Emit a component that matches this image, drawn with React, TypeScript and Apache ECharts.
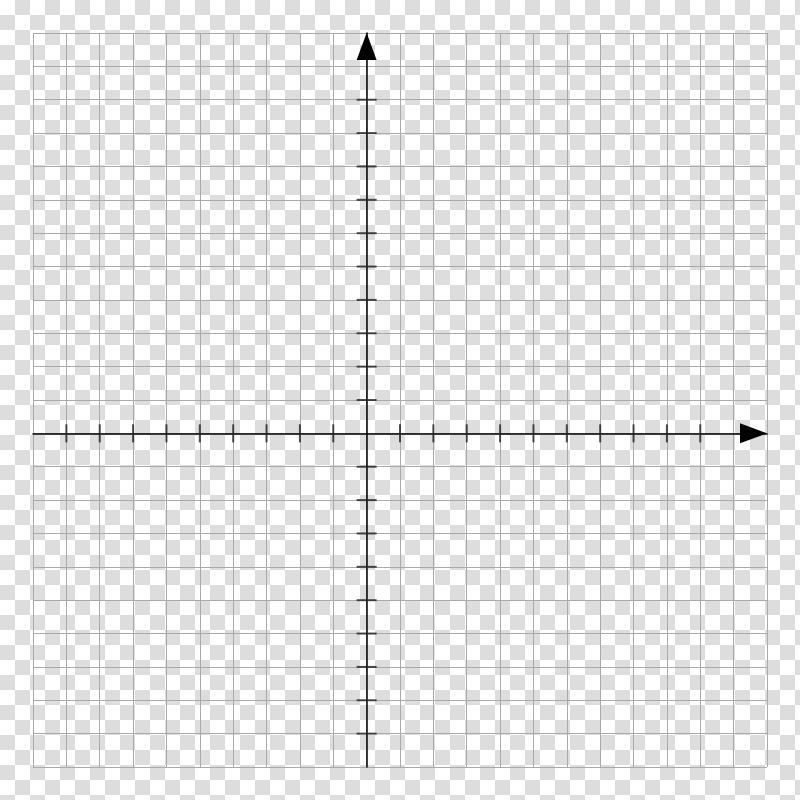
import React, { useEffect, useRef } from "react";
import * as echarts from "echarts";

const xRange = [-10, 12];
const yRange = [-10, 12];
const xTicks = [-9, -8, -7, -6, -5, -4, -3, -2, -1, 1, 2, 3, 4, 5, 6, 7, 8, 9, 10];
const yTicks = [-9, -8, -7, -6, -5, -4, -3, -2, -1, 1, 2, 3, 4, 5, 6, 7, 8, 9, 10];

export default function App() {
  const ref = useRef<HTMLDivElement>(null);

  useEffect(() => {
    if (!ref.current) return;
    const chart = echarts.init(ref.current, undefined, { renderer: "svg" });
    const axisCommon = {
      type: "value" as const,
      interval: 1,
      axisLine: {
        show: true,
        onZero: true,
        symbol: ["none", "triangle"],
        symbolSize: [20, 27],
        symbolOffset: [0, -13.5],
        lineStyle: { color: "#000", width: 1.5 },
      },
      axisTick: { show: false },
      axisLabel: { show: false },
      splitLine: { show: true, lineStyle: { color: "#aaaaaa", width: 1 } },
    };
    chart.setOption({
      animation: false,
      backgroundColor: "transparent",
      grid: { left: 33, right: 33, top: 33, bottom: 33, containLabel: false },
      xAxis: { ...axisCommon, min: xRange[0], max: xRange[1] },
      yAxis: { ...axisCommon, min: yRange[0], max: yRange[1] },
      series: [
        {
          type: "scatter",
          silent: true,
          symbol: "rect",
          symbolSize: [2, 18],
          itemStyle: { color: "#222" },
          data: xTicks.map((t) => [t, 0]),
          z: 5,
        },
        {
          type: "scatter",
          silent: true,
          symbol: "rect",
          symbolSize: [20, 2],
          itemStyle: { color: "#222" },
          data: yTicks.map((t) => [0, t]),
          z: 5,
        },
      ],
    });
    return () => chart.dispose();
  }, []);

  return (
    <div
      style={{
        position: "absolute",
        left: 0,
        top: 0,
        width: 800,
        height: 800,
        backgroundImage:
          "conic-gradient(#dddddd 0 25%, #ffffff 0 50%, #dddddd 0 75%, #ffffff 0)",
        backgroundSize: "30px 30px",
        backgroundPosition: "0 0",
      }}
    >
      <div ref={ref} style={{ width: 800, height: 800 }} />
    </div>
  );
}
